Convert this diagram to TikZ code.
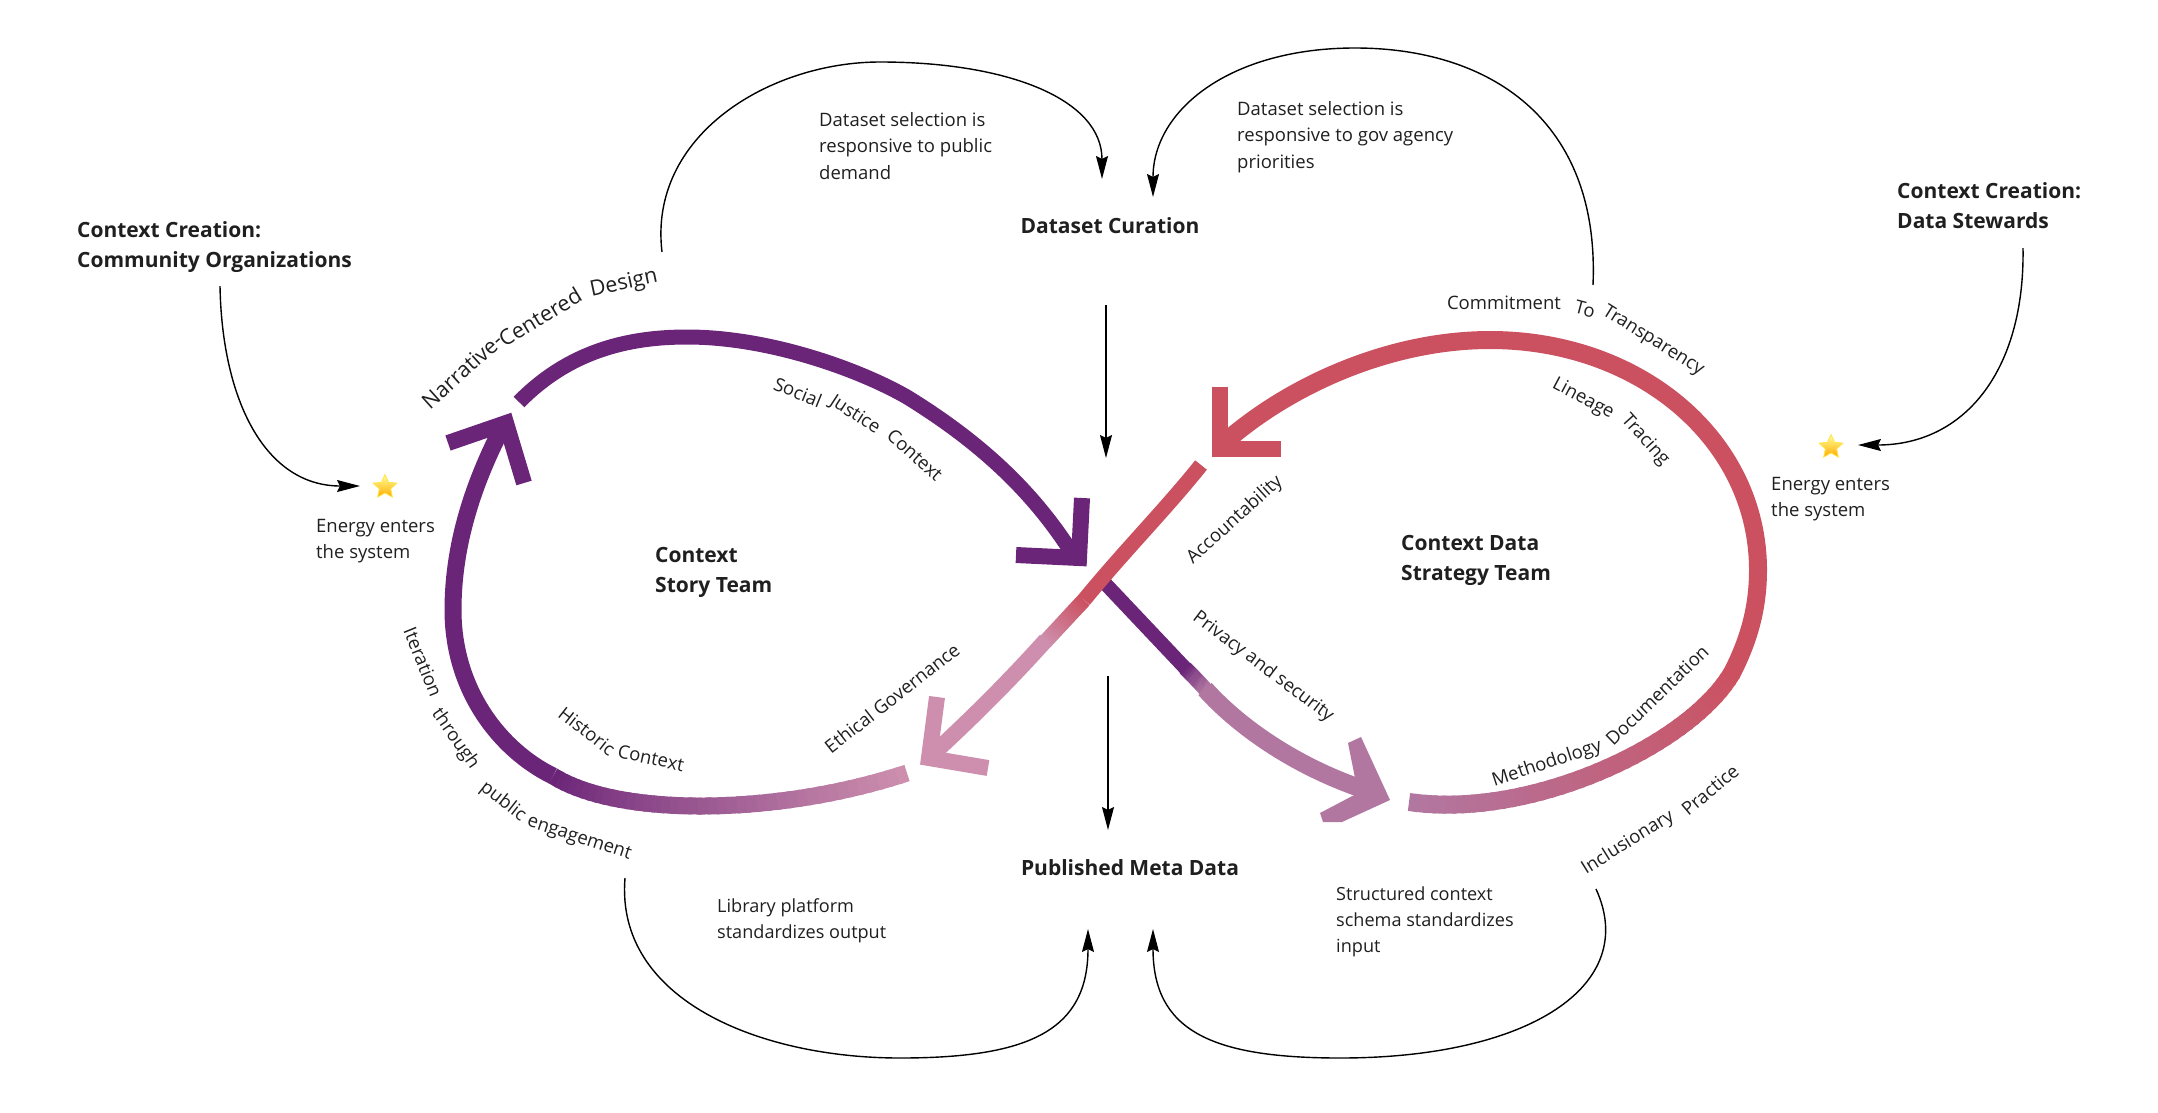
\documentclass[tikz,border=0pt]{standalone}
\usepackage{fontspec}
\setmainfont{Open Sans}
\usetikzlibrary{positioning,shapes.geometric,arrows.meta}
\definecolor{StoryPurple}{HTML}{6B2578}
\definecolor{DataRed}{HTML}{CC5160}
\definecolor{PalePink}{HTML}{CD8FAD}
\definecolor{Mauve}{HTML}{B277A1}
\definecolor{InkText}{HTML}{1F1F1F}
\newcommand{\fadeband}[7]{
	\foreach \n in {0,...,39}{
		\pgfmathsetmacro\ta{\n/40}
		\pgfmathsetmacro\tb{min(1,(\n+1.4)/40)}
		\pgfmathsetmacro\tintval{\n/39*100}
		\path #1 .. controls #2 and #3 .. #4 coordinate[pos=\ta] (u) coordinate[pos=\tb] (v);
		\draw[line width=#7,#6!\tintval!#5] (u) -- (v);
	}
}
\tikzset{
	band/.style={draw=#1,line join=round},
	barb/.style={draw=#1,line width=16pt,miter limit=10},
	flow/.style={draw=black,line width=1.4pt,-{Stealth[length=23pt,width=12pt,inset=3pt]}},
	note/.style={font=\fontsize{18.5}{26.5}\selectfont,text=InkText,align=left,anchor=west,inner sep=0pt},
	lownote/.style={note,font=\fontsize{18.1}{26}\selectfont},
	team/.style={font=\fontsize{21}{30}\selectfont\bfseries,text=InkText,align=left,anchor=west,inner sep=0pt},
	tag/.style={font=\fontsize{18.5}{22}\selectfont,text=InkText,inner sep=0pt},
	bigtag/.style={font=\fontsize{21.5}{24}\selectfont,text=InkText,inner sep=0pt},
	energy/.style={star,star points=5,star point ratio=2.1,minimum size=25pt,inner sep=0pt,
		top color=yellow!40!white,bottom color=orange!65!yellow,draw=orange!30!yellow!70!white,line width=.8pt}
}
\begin{document}
\begin{tikzpicture}[x=1pt,y=-1pt]
	\useasboundingbox (0,0) rectangle (2158,1112);

	\draw[band=StoryPurple,line width=15pt] (519,402) .. controls (570,350) and (630,337) .. (687,337) .. controls (770,337) and (860,370) .. (907,397) .. controls (985,445) and (1035,495) .. (1072,553);
	\draw[barb=StoryPurple] (1082,498) -- (1079,558) -- (1016,555);
	\draw[band=StoryPurple,line width=14pt] (1100,578) -- (1186,669);
	\fadeband{(1185,668)}{(1192,675)}{(1199,682)}{(1206,690)}{StoryPurple}{Mauve}{15pt}
	\draw[band=Mauve,line width=18pt] (1205,689) .. controls (1240,728) and (1300,770) .. (1375,793);
	\fill[Mauve] (1348,743) -- (1361,737) -- (1390,800) -- (1342,822) -- (1323,822) -- (1320,813) -- (1358,793) -- cycle;

	\draw[band=StoryPurple,line width=17pt] (502,428) .. controls (470,490) and (453,550) .. (453,610) .. controls (453,690) and (500,750) .. (553,776);
	\draw[barb=StoryPurple] (448,443) -- (506,423) -- (524,483);
	\fadeband{(553,776)}{(620,818)}{(780,815)}{(907,773)}{StoryPurple}{PalePink}{17pt}

	\draw[band=PalePink,line width=16pt] (1046,640) .. controls (1010,680) and (975,715) .. (935,752);
	\draw[barb=PalePink] (937,697) -- (929,758) -- (988,768);
	\fadeband{(1084,600)}{(1071,614)}{(1058,628)}{(1045,642)}{DataRed}{PalePink}{15pt}
	\draw[band=DataRed,line width=15pt] (1201,465) .. controls (1165,510) and (1125,550) .. (1084,600);

	\draw[band=DataRed,line width=18pt] (1225,442) .. controls (1290,385) and (1390,340) .. (1490,340) .. controls (1640,340) and (1758,440) .. (1758,570) .. controls (1758,610) and (1748,642) .. (1731,675);
	\draw[barb=DataRed] (1220,387) -- (1220,449) -- (1281,449);
	\fadeband{(1732,673)}{(1690,745)}{(1530,820)}{(1409,802)}{DataRed}{Mauve}{18pt}

	\node[team,anchor=center] (curation) at (1110,226) {Dataset Curation};
	\node[team,anchor=center] (published) at (1130,868) {Published Meta Data};
	\node[team] (community) at (77,247) {Context Creation:\\Community Organizations};
	\node[team] (stewards) at (1897,206) {Context Creation:\\Data Stewards};
	\node[team] (story) at (655,572) {Context\\Story Team};
	\node[team] (strategy) at (1401,560) {Context Data\\Strategy Team};

	\node[note] (energyleft) at (316,541) {Energy enters\\the system};
	\node[note] (energyright) at (1771,499) {Energy enters\\the system};
	\node[note] (demand) at (819,146) {Dataset selection is\\responsive to public\\demand};
	\node[note] (agency) at (1237,137) {Dataset selection is\\responsive to gov agency\\priorities};
	\node[lownote] (library) at (717,921) {Library platform\\standardizes output};
	\node[lownote] (schema) at (1336,922) {Structured context\\schema standardizes\\input};

	\node[energy] (starleft) at (385,487) {};
	\node[energy] (starright) at (1831,447) {};

	\node[bigtag,rotate=42] (narrative) at (462,371) {Narrative-};
	\node[bigtag,rotate=31] (centered) at (540,317) {Centered};
	\node[bigtag,rotate=12] (design) at (624,284) {Design};
	\node[tag,rotate=-22] (social) at (798,392) {Social};
	\node[tag,rotate=-33] (justice) at (855,415) {Justice};
	\node[tag,rotate=-42] (contexta) at (915,455) {Context};
	\node[tag] (commitment) at (1504,303) {Commitment};
	\node[tag,rotate=-15] (to) at (1585,309) {To};
	\node[tag,rotate=-32] (transparency) at (1653,341) {Transparency};
	\node[tag,rotate=-28] (lineage) at (1583,399) {Lineage};
	\node[tag,rotate=-48] (tracing) at (1645,440) {Tracing};
	\node[tag,rotate=42] (accountability) at (1235,520) {Accountability};
	\node[tag,rotate=-37] (privacy) at (1263,667) {Privacy and security};
	\node[tag,rotate=18] (methodology) at (1547,764) {Methodology};
	\node[tag,rotate=44] (documentation) at (1657,695) {Documentation};
	\node[tag,rotate=32] (inclusionary) at (1628,843) {Inclusionary};
	\node[tag,rotate=40] (practice) at (1710,790) {Practice};
	\node[tag,rotate=38] (governance) at (892,698) {Ethical Governance};
	\node[tag,rotate=-38] (historic) at (587,731) {Historic};
	\node[tag,rotate=-12] (contextb) at (651,758) {Context};
	\node[tag,rotate=-68] (iteration) at (423,662) {Iteration};
	\node[tag,rotate=-55] (through) at (455,739) {through};
	\node[tag,rotate=-38] (public) at (503,802) {public};
	\node[tag,rotate=-18] (engagement) at (579,839) {engagement};

	\coordinate (topa) at (662,252);
	\coordinate (topb) at (1102,179);
	\coordinate (topc) at (1593,285);
	\coordinate (topd) at (1153,197);
	\coordinate (sidea) at (220,286);
	\coordinate (sideb) at (360,486);
	\coordinate (sidec) at (2023,248);
	\coordinate (sided) at (1858,445);
	\coordinate (lowa) at (625,878);
	\coordinate (lowb) at (1088,929);
	\coordinate (lowc) at (1596,889);
	\coordinate (lowd) at (1153,929);
	\coordinate (downa) at (1106,305);
	\coordinate (downb) at (1106,458);
	\coordinate (downc) at (1108,676);
	\coordinate (downd) at (1108,830);

	\draw[flow] (topa) .. controls (648,135) and (770,62) .. (880,62) .. controls (1010,62) and (1102,100) .. (topb);
	\draw[flow] (topc) .. controls (1600,120) and (1490,48) .. (1355,48) .. controls (1230,48) and (1153,110) .. (topd);
	\draw[flow] (sidea) .. controls (222,400) and (265,486) .. (sideb);
	\draw[flow] (sidec) .. controls (2025,370) and (1965,445) .. (sided);
	\draw[flow] (lowa) .. controls (615,1000) and (760,1058) .. (900,1058) .. controls (1030,1058) and (1088,1030) .. (lowb);
	\draw[flow] (lowc) .. controls (1640,985) and (1530,1058) .. (1340,1058) .. controls (1210,1058) and (1153,1030) .. (lowd);
	\draw[flow] (downa) -- (downb);
	\draw[flow] (downc) -- (downd);
\end{tikzpicture}
\end{document}
